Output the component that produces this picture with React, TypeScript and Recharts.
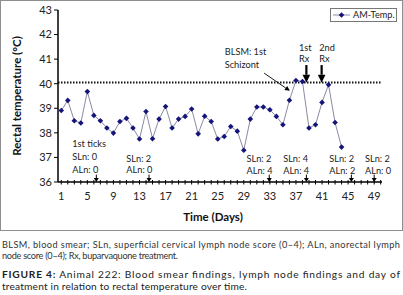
import React from 'react';
import { LineChart, Line, XAxis, YAxis, ReferenceLine, ReferenceDot } from 'recharts';

const days = [1, 2, 3, 4, 5, 6, 7, 8, 9, 10, 11, 12, 13, 14, 15, 16, 17, 18, 19, 20, 21, 22, 23, 24, 25, 26, 27, 28, 29, 30, 31, 32, 33, 34, 35, 36, 37, 38, 39, 40, 41, 42, 43, 44];
const amTemp = [38.91, 39.32, 38.49, 38.4, 39.68, 38.71, 38.49, 38.2, 37.99, 38.46, 38.59, 38.2, 37.75, 38.87, 37.76, 38.56, 39.07, 38.2, 38.56, 38.67, 38.97, 37.96, 38.68, 38.46, 37.75, 37.85, 38.26, 38.07, 37.29, 38.56, 39.05, 39.05, 38.94, 38.67, 38.33, 39.33, 40.13, 40.09, 38.2, 38.33, 39.24, 39.96, 38.42, 37.42];

const yTicks = [36, 37, 38, 39, 40, 41, 42, 43];
const xLabelTicks = [1, 5, 9, 13, 17, 21, 25, 29, 33, 37, 41, 45, 49];
const xMinorTicks = Array.from({ length: 50 }, (_, i) => i + 1);
const feverLine = 40.05;

const textNotes = [
  { day: 2.69, temp: 37.56, text: '1st ticks' },
  { day: 2.69, temp: 37.05, text: 'SLn: 0' },
  { day: 2.69, temp: 36.5, text: 'ALn: 0' },
  { day: 10.98, temp: 36.97, text: 'SLn: 2' },
  { day: 10.98, temp: 36.5, text: 'ALn: 0' },
  { day: 29.42, temp: 36.95, text: 'SLn: 2' },
  { day: 29.42, temp: 36.47, text: 'ALn: 4' },
  { day: 35.04, temp: 36.95, text: 'SLn: 4' },
  { day: 35.04, temp: 36.47, text: 'ALn: 4' },
  { day: 42.11, temp: 36.95, text: 'SLn: 2' },
  { day: 42.11, temp: 36.47, text: 'ALn: 2' },
  { day: 47.59, temp: 36.95, text: 'SLn: 2' },
  { day: 47.59, temp: 36.47, text: 'ALn: 0' },
  { day: 26.08, temp: 41.3, text: 'BLSM: 1st' },
  { day: 26.08, temp: 40.8, text: 'Schizont' },
  { day: 37.45, temp: 41.46, text: '1st' },
  { day: 37.45, temp: 41.01, text: 'Rx' },
  { day: 40.57, temp: 41.46, text: '2nd' },
  { day: 40.57, temp: 41.01, text: 'Rx' },
];

const axisArrowDays = [6.38, 14.46, 32.9, 38.6, 45.5, 49.0];
const rxArrows = [
  { day: 38.6, from: 40.76, to: 40.04 },
  { day: 40.94, from: 40.76, to: 40.04 },
];
const blsmArrow = { fromDay: 32.12, fromTemp: 40.43, toDay: 36.07, toTemp: 39.71 };

const data = days.map((d, i) => ({ day: d, temp: amTemp[i] }));

const FONT = 'Lato, "Open Sans", sans-serif';

const makeArrow = (w: number, head: number, headW: number) => (p: any) => {
  const { x1, y1, x2, y2 } = p;
  const dx = x2 - x1;
  const dy = y2 - y1;
  const len = Math.hypot(dx, dy) || 1;
  const ux = dx / len;
  const uy = dy / len;
  const bx = x2 - ux * head;
  const by = y2 - uy * head;
  const px = -uy;
  const py = ux;
  return (
    <g>
      <line x1={x1} y1={y1} x2={bx} y2={by} stroke="#000" strokeWidth={w} />
      <polygon
        points={`${x2},${y2} ${bx + px * headW},${by + py * headW} ${bx - px * headW},${by - py * headW}`}
        fill="#000"
      />
    </g>
  );
};

const Diamond = (p: any) => {
  const { cx, cy, index } = p;
  if (cx == null || cy == null) return null;
  const s = 2.8;
  return (
    <polygon
      key={`d-${index}`}
      points={`${cx},${cy - s} ${cx + s},${cy} ${cx},${cy + s} ${cx - s},${cy}`}
      fill="#14147a"
    />
  );
};

const TICK_SIZE = 3;
const TICK_MARGIN = 7;

const XTick = (p: any) => {
  const { x, y, payload } = p;
  const axisY = y - TICK_SIZE - TICK_MARGIN;
  const show = xLabelTicks.includes(payload.value);
  return (
    <g>
      <line x1={x} x2={x} y1={axisY - 2} y2={axisY + 2.5} stroke="#000" strokeWidth={1} />
      {show && (
        <text x={x} y={y} dy="0.71em" textAnchor="middle" fontSize={11} fill="#222" fontFamily={FONT}>
          {payload.value}
        </text>
      )}
    </g>
  );
};

export default function App() {
  return (
    <div style={{ position: 'absolute', left: 0, top: 0, width: 403, height: 295, background: '#fff', fontFamily: FONT }}>
      <style>{`body{margin:0}`}</style>
      <div
        style={{
          position: 'absolute',
          left: 0,
          top: 0,
          width: 401,
          height: 229,
          border: '1px solid #8e8e8e',
        }}
      />
      <div style={{ position: 'absolute', left: 0, top: 0 }}>
        <LineChart width={403} height={232} data={data} margin={{ top: 10, right: 21, bottom: 20, left: 0 }}>
          <XAxis
            type="number"
            dataKey="day"
            domain={[0.5, 50.2]}
            ticks={xMinorTicks}
            interval={0}
            tickLine={false}
            tickSize={TICK_SIZE}
            tickMargin={TICK_MARGIN}
            tick={<XTick />}
            height={30}
            axisLine={{ stroke: '#000', strokeWidth: 1.5 }}
            label={{
              value: 'Time (Days)',
              position: 'bottom',
              offset: 1,
              dx: -7,
              style: { fontSize: 11.5, fontWeight: 700, fill: '#111', fontFamily: FONT },
            }}
          />
          <YAxis
            type="number"
            domain={[36, 43]}
            ticks={yTicks}
            interval={0}
            width={58}
            tickSize={4}
            tickMargin={2}
            tick={{ fontSize: 11, fill: '#222', fontFamily: FONT }}
            tickLine={{ stroke: '#000' }}
            axisLine={{ stroke: '#000', strokeWidth: 1.5 }}
            label={{
              value: 'Rectal temperature (°C)',
              position: 'center',
              angle: -90,
              dx: -12,
              style: { fontSize: 11.5, fontWeight: 700, fill: '#111', fontFamily: FONT, textAnchor: 'middle' },
            }}
          />
          <ReferenceLine y={feverLine} stroke="#111" strokeWidth={1.8} strokeDasharray="1.5 1.5" />
          <Line
            type="linear"
            dataKey="temp"
            stroke="#8a8aa6"
            strokeWidth={1}
            dot={<Diamond />}
            activeDot={false}
            isAnimationActive={false}
          />
          {axisArrowDays.map((d, i) => (
            <ReferenceLine
              key={`aa-${i}`}
              segment={[
                { x: d, y: 36.3 },
                { x: d, y: 36 },
              ]}
              shape={makeArrow(1, 4, 2.5)}
            />
          ))}
          {rxArrows.map((a, i) => (
            <ReferenceLine
              key={`rx-${i}`}
              segment={[
                { x: a.day, y: a.from },
                { x: a.day, y: a.to },
              ]}
              shape={makeArrow(2.2, 8, 3.8)}
            />
          ))}
          <ReferenceLine
            segment={[
              { x: blsmArrow.fromDay, y: blsmArrow.fromTemp },
              { x: blsmArrow.toDay, y: blsmArrow.toTemp },
            ]}
            shape={makeArrow(0.9, 5, 2.5)}
          />
          {textNotes.map((n, i) => (
            <ReferenceDot
              key={`tn-${i}`}
              x={n.day}
              y={n.temp}
              r={0}
              ifOverflow="visible"
              shape={(p: any) => (
                <text
                  x={p.cx}
                  y={p.cy}
                  dominantBaseline="central"
                  textAnchor="start"
                  fontSize={9.2}
                  fill="#222"
                  fontFamily={FONT}
                >
                  {n.text}
                </text>
              )}
            />
          ))}
        </LineChart>
      </div>
      <div
        style={{
          position: 'absolute',
          left: 330,
          top: 8,
          width: 65,
          height: 12,
          border: '1px solid #777',
          background: '#fff',
          display: 'flex',
          alignItems: 'center',
        }}
      >
        <svg width={22} height={12} style={{ display: 'block', flex: 'none' }}>
          <line x1={2} y1={6} x2={19} y2={6} stroke="#8a8aa6" strokeWidth={1} />
          <polygon points="10.5,3.2 13.3,6 10.5,8.8 7.7,6" fill="#14147a" />
        </svg>
        <span style={{ fontSize: 9.2, color: '#222', whiteSpace: 'nowrap', lineHeight: '12px' }}>AM-Temp.</span>
      </div>
      <svg width={403} height={63} style={{ position: 'absolute', left: 0, top: 232 }}>
        <text x={2} y={12.5} dominantBaseline="central" fontSize={9.2} fill="#333" fontFamily={FONT} textLength={398}>
          BLSM, blood smear; SLn, superficial cervical lymph node score (0–4); ALn, anorectal lymph
        </text>
        <text x={2} y={23.5} dominantBaseline="central" fontSize={9.2} fill="#333" fontFamily={FONT} textLength={176}>
          node score (0–4); Rx, buparvaquone treatment.
        </text>
        <text x={2} y={42} dominantBaseline="central" fontSize={10.2} fill="#222" fontFamily={FONT} textLength={398}>
          <tspan fontWeight={700}>FIGURE 4:</tspan> Animal 222: Blood smear findings, lymph node findings and day of
        </text>
        <text x={2} y={54} dominantBaseline="central" fontSize={10.2} fill="#222" fontFamily={FONT} textLength={245}>
          treatment in relation to rectal temperature over time.
        </text>
      </svg>
    </div>
  );
}
